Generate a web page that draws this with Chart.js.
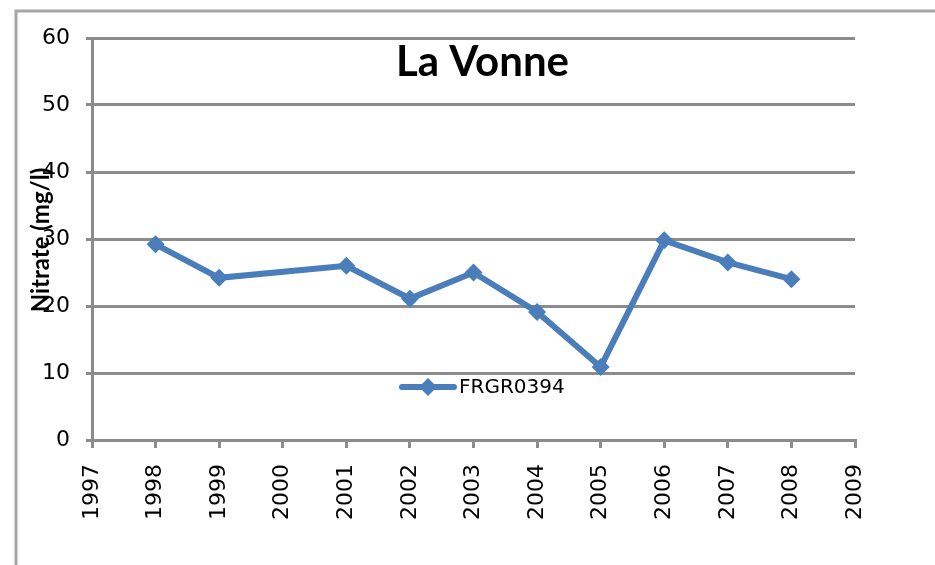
<!DOCTYPE html>
<html>
<head>
<meta charset="utf-8">
<script src="https://cdn.jsdelivr.net/npm/chart.js@4"></script>
<style>
  html, body { margin: 0; padding: 0; background: #fff; }
  #wrap { width: 935px; height: 565px; position: relative; }
</style>
</head>
<body>
<div id="wrap"><canvas id="nitrateChart"></canvas></div>
<script>
// data
var years = [1998, 1999, 2001, 2002, 2003, 2004, 2005, 2006, 2007, 2008];
var nitrate = [29.2, 24.2, 26.0, 21.1, 25.0, 19.1, 10.9, 29.8, 26.5, 24.0];
var stationName = 'FRGR0394';
var chartTitle = 'La Vonne';
var yTitle = 'Nitrate (mg/l)';

var gridGray = '#8c8c8c';
var lineBlue = '#4a7ebb';

Chart.defaults.font.family = '"DejaVu Sans"';
Chart.defaults.font.size = 20;
Chart.defaults.color = '#000';

// outer frame, title, y title and the legend inside the plot
var decorations = {
    id: 'decorations',
    beforeDraw: function(chart) {
        var c = chart.ctx;
        c.save();
        c.fillStyle = '#fff';
        c.fillRect(0, 0, chart.width, chart.height);
        c.strokeStyle = '#a6a6a6';
        c.lineWidth = 3;
        c.beginPath();
        c.moveTo(16, chart.height);
        c.lineTo(16, 11);
        c.lineTo(chart.width, 11);
        c.stroke();
        c.restore();
    },
    afterDatasetsDraw: function(chart) {
        var c = chart.ctx;
        var area = chart.chartArea;
        c.save();
        c.fillStyle = '#000';
        c.font = 'bold 42px Lato';
        c.textAlign = 'center';
        c.textBaseline = 'alphabetic';
        c.fillText(chartTitle, (area.left + area.right) / 2 + 9, 76);

        c.font = 'bold 24px Lato';
        c.translate(49, 240);
        c.rotate(-Math.PI / 2);
        c.fillText(yTitle, 0, 0);
        c.restore();

        // legend
        var ds = chart.data.datasets[0];
        var ly = 387;
        c.save();
        c.strokeStyle = ds.borderColor;
        c.lineWidth = 6;
        c.lineCap = 'round';
        c.beginPath();
        c.moveTo(402, ly);
        c.lineTo(454, ly);
        c.stroke();
        c.fillStyle = ds.borderColor;
        c.beginPath();
        c.moveTo(428, ly - 9);
        c.lineTo(437, ly);
        c.lineTo(428, ly + 9);
        c.lineTo(419, ly);
        c.closePath();
        c.fill();
        c.fillStyle = '#000';
        c.font = '20px "DejaVu Sans"';
        c.textAlign = 'left';
        c.textBaseline = 'middle';
        c.fillText(ds.label, 459, ly + 1);
        c.restore();
    }
};

document.addEventListener('DOMContentLoaded', function() {
    var ctx = document.getElementById('nitrateChart').getContext('2d');
    var points = years.map(function(y, i) { return { x: y, y: nitrate[i] }; });

    new Chart(ctx, {
        type: 'line',
        data: {
            datasets: [{
                label: stationName,
                data: points,
                borderColor: lineBlue,
                backgroundColor: lineBlue,
                borderWidth: 6,
                pointStyle: 'rectRot',
                pointRadius: 9,
                pointHoverRadius: 9,
                pointBorderWidth: 0,
                tension: 0
            }]
        },
        options: {
            responsive: true,
            maintainAspectRatio: false,
            animation: false,
            layout: { padding: { left: 0, right: 80, top: 38, bottom: 0 } },
            plugins: {
                legend: { display: false },
                title: { display: false },
                tooltip: { enabled: false }
            },
            scales: {
                x: {
                    type: 'linear',
                    min: 1997,
                    max: 2009,
                    afterFit: function(scale) { scale.height = 125; },
                    ticks: {
                        stepSize: 1,
                        minRotation: 90,
                        maxRotation: 90,
                        padding: 16,
                        color: '#000',
                        font: { size: 22 },
                        callback: function(v) { return String(v); }
                    },
                    grid: {
                        drawOnChartArea: false,
                        drawTicks: true,
                        tickLength: 8,
                        color: gridGray,
                        lineWidth: 3
                    },
                    border: { color: gridGray, width: 3 }
                },
                y: {
                    min: 0,
                    max: 60,
                    afterFit: function(scale) { scale.width = 92; },
                    ticks: {
                        stepSize: 10,
                        padding: 16,
                        color: '#000',
                        font: { size: 22 }
                    },
                    grid: {
                        color: gridGray,
                        lineWidth: 3,
                        tickLength: 6
                    },
                    border: { color: gridGray, width: 3 }
                }
            }
        },
        plugins: [decorations]
    });
});
</script>
</body>
</html>
